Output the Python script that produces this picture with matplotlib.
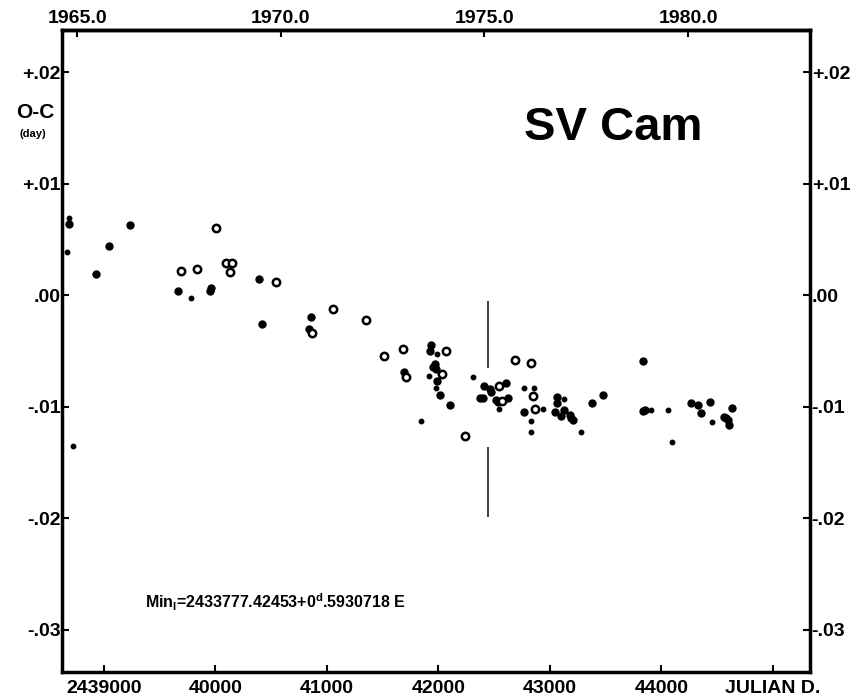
import matplotlib
matplotlib.use('Agg')
import matplotlib.pyplot as plt
import numpy as np

plt.rcParams['font.family'] = ['Liberation Sans', 'DejaVu Sans']
plt.rcParams['font.weight'] = 'bold'
plt.rcParams['mathtext.fontset'] = 'custom'
plt.rcParams['mathtext.rm'] = 'Liberation Sans:bold'
plt.rcParams['mathtext.bf'] = 'Liberation Sans:bold'
plt.rcParams['mathtext.it'] = 'Liberation Sans:bold'

# JD - 2400000 and O-C (days)
jd_filled = [38690, 38929, 39048, 39239, 39661, 39963, 39954, 40391, 40418, 40860,
             40840, 41692, 41930, 41925, 41948, 41970, 41981, 41990, 42017, 42107,
             42406, 42459, 42472, 42376, 42403, 42519, 42531, 42606, 42624, 42768,
             43064, 43064, 43127, 43049, 43102, 43177, 43192, 43207, 43378, 43479,
             43838, 43835, 43856, 44266, 44331, 44433, 44355, 44636, 44558, 44582,
             44600, 44606]
oc_filled = [0.0064, 0.0019, 0.0044, 0.0063, 0.0004, 0.0007, 0.0004, 0.0015, -0.0026, -0.0019,
             -0.0030, -0.0069, -0.0045, -0.0050, -0.0064, -0.0062, -0.0066, -0.0077, -0.0089, -0.0098,
             -0.0081, -0.0084, -0.0087, -0.0092, -0.0092, -0.0094, -0.0096, -0.0079, -0.0092, -0.0105,
             -0.0091, -0.0097, -0.0103, -0.0105, -0.0108, -0.0107, -0.0110, -0.0112, -0.0097, -0.0089,
             -0.0059, -0.0104, -0.0103, -0.0097, -0.0098, -0.0096, -0.0106, -0.0101, -0.0109, -0.0110,
             -0.0112, -0.0116]

jd_open = [39694, 39838, 40005, 40098, 40154, 40136, 40544, 40866, 41055, 41351, 41512,
           41683, 41712, 42068, 42032, 42243, 42571, 42540, 42690, 42827, 42845, 42869]
oc_open = [0.0022, 0.0024, 0.0060, 0.0029, 0.0029, 0.0021, 0.0012, -0.0034, -0.0012, -0.0022, -0.0054,
           -0.0048, -0.0073, -0.0050, -0.0071, -0.0126, -0.0095, -0.0081, -0.0058, -0.0061, -0.0090, -0.0102]

jd_small = [38692, 38672, 39784, 41844, 41990, 41916, 41981, 42307, 42546, 42768, 42854,
            42938, 42833, 42833, 43127, 43282, 43907, 44062, 44095, 44454, 38728]
oc_small = [0.0069, 0.0039, -0.0002, -0.0113, -0.0053, -0.0072, -0.0083, -0.0073, -0.0102, -0.0083, -0.0083,
            -0.0102, -0.0113, -0.0123, -0.0093, -0.0123, -0.0103, -0.0103, -0.0132, -0.0114, -0.0135]

# error bar drawn across the cluster
bar_jd = 42445
bar_segments = [(-0.0005, -0.0065), (-0.0136, -0.0199)]

x_ticks = [39000, 40000, 41000, 42000, 43000, 44000, 45000]
x_labels = ['2439000', '40000', '41000', '42000', '43000', '44000', 'JULIAN D.']
y_ticks = [0.02, 0.01, 0.0, -0.01, -0.02, -0.03]
y_labels = ['+.02', '+.01', '.00', '-.01', '-.02', '-.03']
years = [1965, 1970, 1975, 1980]


def jd2yr(x):
    return 2000 + (np.asarray(x) + 2400000 - 2451545.0) / 365.25


def yr2jd(y):
    return (np.asarray(y) - 2000) * 365.25 + 2451545.0 - 2400000


fig = plt.figure(figsize=(8.52, 7), dpi=100)
ax = fig.add_axes([0.073, 0.04, 0.878, 0.917])

ax.plot(jd_filled, oc_filled, 'o', color='black', ms=5, ls='none')
ax.plot(jd_open, oc_open, 'o', mfc='white', mec='black', mew=1.8, ms=5.3, ls='none')
ax.plot(jd_small, oc_small, 'o', color='black', ms=3.2, ls='none')
for y0, y1 in bar_segments:
    ax.vlines(bar_jd, y0, y1, color='#333333', lw=1.3)

ax.set_xlim(38627, 45335)
ax.set_ylim(-0.0338, 0.0238)

ax.set_xticks(x_ticks)
ax.set_xticklabels(x_labels)
ax.set_yticks(y_ticks)
ax.set_yticklabels(y_labels)
ax.tick_params(direction='in', length=5, width=1.5, labelsize=14, pad=6,
               left=True, right=True, labelleft=True, labelright=True, top=False)
ax.tick_params(axis='y', pad=1)
for s in ax.spines.values():
    s.set_linewidth(2.5)

sec = ax.secondary_xaxis('top', functions=(jd2yr, yr2jd))
sec.set_xticks(years)
sec.set_xticklabels(['%.1f' % y for y in years])
sec.tick_params(direction='in', length=5, width=1.5, labelsize=14, pad=2)
sec.spines['top'].set_linewidth(2.5)

ax.text(0.737, 0.847, 'SV Cam', transform=ax.transAxes, fontsize=34,
        fontweight='bold', ha='center', va='center')
ax.text(0.111, 0.109, r'Min$_\mathrm{I}$=2433777.42453+0$^\mathrm{d}$.5930718 E',
        transform=ax.transAxes, fontsize=11.5, fontweight='bold', ha='left', va='center')

fig.text(35 / 852, 1 - 113 / 700, 'O-C', fontsize=15, fontweight='bold', ha='center', va='center')
fig.text(33 / 852, 1 - 134 / 700, '(day)', fontsize=8, fontweight='bold', ha='center', va='center')

fig.savefig('out.png', dpi=100)
